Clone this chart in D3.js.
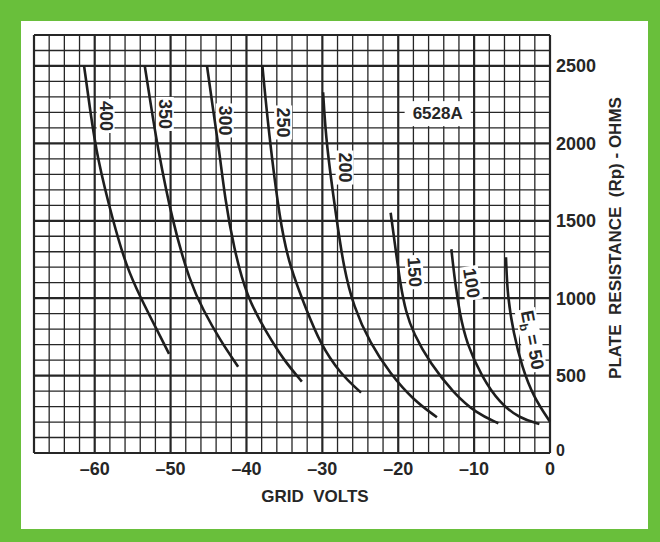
<!DOCTYPE html>
<html><head><meta charset="utf-8">
<script src="https://cdn.jsdelivr.net/npm/d3@7"></script>
<style>body{margin:0;background:#fff}svg{display:block}</style>
</head><body>
<script>
// ---- data ----
const xTicks = [-60, -50, -40, -30, -20, -10, 0];
const yTicks = [500, 1000, 1500, 2000, 2500];
const eb400V = [-61.4, -60.6, -59.7, -57.6, -55.8, -54.0, -51.8, -50.2];
const eb400R = [2500, 2216, 1912, 1499, 1201, 1008, 795, 640];
const eb350V = [-53.4, -52.6, -51.8, -49.8, -47.4, -45.7, -43.5, -41.1];
const eb350R = [2500, 2248, 2000, 1499, 1096, 924, 730, 557];
const eb300V = [-45.2, -44.4, -43.6, -42.8, -41.7, -40.0, -37.3, -35.1, -32.7];
const eb300R = [2500, 2216, 1957, 1634, 1333, 1010, 773, 601, 461];
const eb250V = [-37.9, -37.1, -35.6, -34.3, -32.1, -30.3, -27.7, -24.9];
const eb250R = [2500, 2086, 1494, 1203, 924, 709, 515, 390];
const eb200V = [-29.9, -29.5, -28.1, -27.2, -25.9, -23.7, -21.1, -18.0, -14.9];
const eb200R = [2330, 2000, 1500, 1203, 945, 709, 515, 342, 231];
const eb150V = [-21.0, -20.3, -19.7, -19.0, -18.0, -15.8, -12.7, -9.7, -6.8];
const eb150R = [1552, 1298, 1085, 911, 773, 579, 386, 256, 192];
const eb100V = [-13.0, -12.5, -11.9, -11.0, -9.0, -6.6, -4.0, -1.4];
const eb100R = [1316, 1096, 902, 709, 493, 321, 224, 187];
const eb50V = [-5.8, -5.6, -4.8, -3.7, -2.2, 0];
const eb50R = [1264, 1010, 773, 557, 364, 202];
const series = [
  {eb: 400, v: eb400V, r: eb400R},
  {eb: 350, v: eb350V, r: eb350R},
  {eb: 300, v: eb300V, r: eb300R},
  {eb: 250, v: eb250V, r: eb250R},
  {eb: 200, v: eb200V, r: eb200R},
  {eb: 150, v: eb150V, r: eb150R},
  {eb: 100, v: eb100V, r: eb100R},
  {eb: 50, v: eb50V, r: eb50R}
];
const tubeName = "6528A";
const xTitle = "GRID  VOLTS";
const yTitle = "PLATE  RESISTANCE  (Rp) - OHMS";

// ---- layout ----
const W = 660, H = 542;
const green = "#69bf3b", ink = "#262626";
const font = "'Liberation Sans', Arial, sans-serif";
const svg = d3.select("body").append("svg").attr("width", W).attr("height", H);
svg.append("rect").attr("width", W).attr("height", H).attr("fill", green);
svg.append("rect").attr("x", 21).attr("y", 21).attr("width", 627).attr("height", 508).attr("fill", "#fff");

const x = d3.scaleLinear().domain([-68, 0]).range([34, 550]);
const y = d3.scaleLinear().domain([0, 2700]).range([453, 35]);

const gridG = svg.append("g");
const bgG = svg.append("g");
const curveG = svg.append("g");
const textG = svg.append("g");
// grid
d3.range(-68, 0.1, 2).forEach(v => {
  const major = v % 10 === 0 || v === -68;
  gridG.append("line").attr("x1", x(v)).attr("x2", x(v)).attr("y1", y(0)).attr("y2", y(2700))
    .attr("stroke", ink).attr("stroke-width", major ? 2.2 : 1.3);
});
d3.range(0, 2700.1, 100).forEach(r => {
  const major = r % 500 === 0 || r === 2700;
  gridG.append("line").attr("y1", y(r)).attr("y2", y(r)).attr("x1", x(-68)).attr("x2", x(0))
    .attr("stroke", ink).attr("stroke-width", major ? 2.2 : 1.3);
});

// curves
const line = d3.line().x(d => x(d[0])).y(d => y(d[1])).curve(d3.curveBasis);
series.forEach(s => {
  const pts = s.v.map((v, i) => [v, s.r[i]]);
  curveG.append("path").attr("d", line(pts)).attr("fill", "none")
    .attr("stroke", "#1e1e1e").attr("stroke-width", 2.6).attr("stroke-linecap", "butt");
});

// curve labels (anchor positions in data units, rotation in degrees)
const labelPos = {400: [-58.5, 2177, 90], 350: [-50.7, 2190, 90], 300: [-42.8, 2148, 90], 250: [-35.1, 2135, 90],
  200: [-27.0, 1844, 90], 150: [-17.8, 1169, 86], 100: [-10.3, 1098, 81], 50: [-2.25, 730, 79]};
series.forEach(s => {
  const [lv, lr, rot] = labelPos[s.eb];
  const tr = `translate(${x(lv)},${y(lr)}) rotate(${rot})`;
  const gl = textG.append("g").attr("transform", tr);
  const t = gl.append("text").attr("text-anchor", "middle").attr("dy", "0.36em")
    .attr("font-family", font).attr("font-weight", "bold").attr("font-size", 18).attr("fill", ink);
  if (s.eb === 50) {
    t.append("tspan").text("E");
    t.append("tspan").attr("font-size", 12).attr("dy", 4).text("b");
    t.append("tspan").attr("dy", -4).text(" = 50");
  } else t.text(s.eb);
  const bb = t.node().getBBox();
  bgG.append("g").attr("transform", tr).append("rect")
    .attr("x", bb.x - 2).attr("y", bb.y + 1).attr("width", bb.width + 4)
    .attr("height", bb.height - 2).attr("fill", "#fff");
});

// tube name
{
  const gl = textG.append("g").attr("transform", `translate(${x(-14.8)},${y(2196)})`);
  const t = gl.append("text").attr("text-anchor", "middle").attr("dy", "0.36em")
    .attr("font-family", font).attr("font-weight", "bold").attr("font-size", 17).attr("fill", ink).text(tubeName);
  const bb = t.node().getBBox();
  gl.insert("rect", "text").attr("x", bb.x - 8).attr("y", bb.y - 3).attr("width", bb.width + 16)
    .attr("height", bb.height + 6).attr("fill", "#fff");
}

// x tick labels
xTicks.forEach(v => {
  textG.append("text").attr("x", x(v)).attr("y", 475).attr("text-anchor", "middle")
    .attr("font-family", font).attr("font-weight", "bold").attr("font-size", 18).attr("fill", ink)
    .text(v === 0 ? "0" : "\u2013" + Math.abs(v));
});
// y tick labels
yTicks.forEach(r => {
  textG.append("text").attr("x", 556).attr("y", y(r)).attr("dy", "0.36em")
    .attr("font-family", font).attr("font-weight", "bold").attr("font-size", 18).attr("fill", ink).text(r);
});
textG.append("text").attr("x", 556).attr("y", y(0)).attr("dy", "0.2em")
  .attr("font-family", font).attr("font-weight", "bold").attr("font-size", 16).attr("fill", ink).text("0");

// axis titles
textG.append("text").attr("x", 315).attr("y", 502).attr("text-anchor", "middle")
  .style("white-space", "pre")
  .attr("font-family", font).attr("font-weight", "bold").attr("font-size", 17).attr("fill", ink).text(xTitle);
textG.append("text").attr("transform", "translate(621,238) rotate(-90)").attr("text-anchor", "middle")
  .style("white-space", "pre")
  .attr("font-family", font).attr("font-weight", "bold").attr("font-size", 17).attr("fill", ink).text(yTitle);
</script>
</body></html>
